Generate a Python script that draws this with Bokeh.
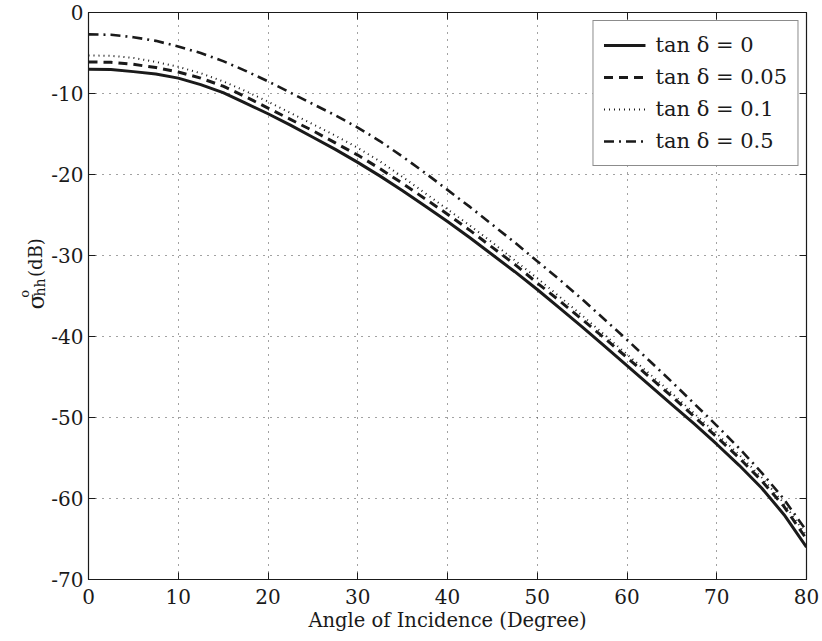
import math
from bokeh.plotting import figure
from bokeh.layouts import row
from bokeh.models import Range1d, LinearAxis, FixedTicker, Legend, LegendItem, ColumnDataSource
from bokeh.core.properties import value
from bokeh.embed import file_html
from bokeh.resources import INLINE

angle = [0, 2.5, 5, 7.5, 10, 12.5, 15, 17.5, 20, 22.5, 25, 27.5, 30, 32.5, 35, 37.5, 40,
         42.5, 45, 47.5, 50, 52.5, 55, 57.5, 60, 62.5, 65, 67.5, 70, 72.5, 75, 77.5, 80]
loss_0 = [-7.0, -7.05, -7.3, -7.6, -8.1, -8.9, -9.9, -11.2, -12.5, -13.9, -15.4, -16.9, -18.5,
          -20.2, -22.0, -23.9, -25.8, -27.8, -29.9, -32.0, -34.2, -36.5, -38.8, -41.2, -43.6,
          -46.0, -48.4, -50.8, -53.3, -55.9, -58.7, -62.0, -66.0]
loss_005 = [-6.1, -6.15, -6.4, -6.8, -7.35, -8.1, -9.1, -10.4, -11.8, -13.2, -14.6, -16.1, -17.6,
            -19.3, -21.1, -23.0, -24.9, -26.9, -29.0, -31.1, -33.4, -35.6, -37.9, -40.2, -42.6,
            -45.0, -47.4, -49.9, -52.4, -55.0, -57.8, -61.0, -65.0]
loss_01 = [-5.3, -5.35, -5.6, -6.1, -6.7, -7.5, -8.5, -9.7, -11.0, -12.4, -13.8, -15.2, -16.7,
           -18.4, -20.3, -22.3, -24.3, -26.3, -28.4, -30.6, -32.8, -35.1, -37.4, -39.8, -42.2,
           -44.6, -47.0, -49.5, -52.0, -54.6, -57.4, -60.6, -64.6]
loss_05 = [-2.7, -2.75, -3.05, -3.5, -4.2, -5.0, -6.0, -7.2, -8.5, -9.9, -11.3, -12.7, -14.2,
           -15.9, -17.8, -19.8, -21.9, -24.0, -26.2, -28.4, -30.7, -33.0, -35.4, -37.9, -40.4,
           -43.0, -45.6, -48.3, -51.0, -53.8, -56.8, -60.1, -64.0]
series_labels = ["tan δ = 0", "tan δ = 0.05", "tan δ = 0.1", "tan δ = 0.5"]
x_ticks = [0, 10, 20, 30, 40, 50, 60, 70, 80]
y_ticks = [0, -10, -20, -30, -40, -50, -60, -70]
y_label_parts = ["σ", "o", "hh", "(dB)"]
x_label = "Angle of Incidence (Degree)"

FONT = "DejaVu Serif"
INK = "#1a1a1a"

p = figure(frame_width=718, frame_height=567, output_backend="svg", toolbar_location=None,
           x_range=Range1d(0, 80), y_range=Range1d(-70, 0),
           min_border_left=40, min_border_right=16, min_border_top=12, min_border_bottom=62,
           background_fill_color="white", border_fill_color="white")
p.outline_line_color = INK
p.outline_line_width = 1.2

for ax in (p.xaxis[0], p.yaxis[0]):
    ax.major_label_text_font = FONT
    ax.major_label_text_font_size = "20px"
    ax.major_label_text_color = INK
    ax.major_tick_in = 7
    ax.major_tick_out = 0
    ax.minor_tick_line_color = None
    ax.axis_line_color = INK
    ax.major_tick_line_color = INK
p.xaxis[0].ticker = FixedTicker(ticks=x_ticks)
p.yaxis[0].ticker = FixedTicker(ticks=y_ticks)
p.yaxis[0].major_label_overrides = {t: str(t) for t in y_ticks}
p.xaxis[0].major_label_standoff = 9
p.yaxis[0].major_label_standoff = 5
p.xaxis[0].axis_label = x_label
p.xaxis[0].axis_label_text_font = FONT
p.xaxis[0].axis_label_text_font_size = "19.5px"
p.xaxis[0].axis_label_text_font_style = "normal"
p.xaxis[0].axis_label_text_color = INK
p.xaxis[0].axis_label_standoff = 2

# mirrored tick axes (top/right), ticks only
for side, tks in (("above", x_ticks), ("right", y_ticks)):
    ax = LinearAxis(ticker=FixedTicker(ticks=tks), major_label_text_font_size="0px",
                    major_label_text_color=None, major_tick_in=7, major_tick_out=0,
                    minor_tick_line_color=None, axis_line_color=INK,
                    major_tick_line_color=INK, major_label_standoff=0)
    p.add_layout(ax, side)

for g in (p.xgrid[0], p.ygrid[0]):
    g.grid_line_color = "#444444"
    g.grid_line_dash = "1 6"
    g.grid_line_width = 1
p.xgrid[0].ticker = FixedTicker(ticks=x_ticks)
p.ygrid[0].ticker = FixedTicker(ticks=y_ticks)

src = ColumnDataSource(dict(x=angle, a=loss_0, b=loss_005, c=loss_01, d=loss_05))
r0 = p.line("x", "a", source=src, line_color=INK, line_width=3)
r1 = p.line("x", "b", source=src, line_color=INK, line_width=3, line_dash="9 6")
r2 = p.line("x", "c", source=src, line_color=INK, line_width=2, line_dash="1 4")
r3 = p.line("x", "d", source=src, line_color=INK, line_width=2.6, line_dash="10 5 2 5")

legend = Legend(items=[LegendItem(label=series_labels[i], renderers=[r]) for i, r in enumerate([r0, r1, r2, r3])],
                location="top_right", margin=8, padding=10, spacing=4,
                glyph_width=42, glyph_height=28, label_height=28, label_standoff=10,
                label_text_font=FONT, label_text_font_size="21px", label_text_color=INK,
                border_line_color=INK, border_line_width=1.2, background_fill_alpha=1)
p.add_layout(legend, "center")

# left strip holding the y-axis label sigma^o_hh (dB)
lab = figure(width=48, height=641, output_backend="svg", toolbar_location=None,
             x_range=Range1d(0, 48), y_range=Range1d(641, 0),
             min_border=0, min_border_left=0, min_border_right=0, min_border_top=0, min_border_bottom=0)
lab.axis.visible = False
lab.grid.visible = False
lab.outline_line_color = None
lab.background_fill_color = "white"
lab.border_fill_color = "white"
pos_x = [35, 24, 39, 35]
pos_y = [327, 318, 311, 277]
sizes = ["23px", "13px", "14px", "18px"]
for t, xx, yy, s in zip(y_label_parts, pos_x, pos_y, sizes):
    lab.text(x=[xx], y=[yy], text=[t], angle=math.pi / 2, text_font=value(FONT),
             text_font_size=value(s), text_color=INK, text_align="center", text_baseline="alphabetic")

layout = row(lab, p, spacing=0)
open("out.html", "w").write(file_html(layout, INLINE))
